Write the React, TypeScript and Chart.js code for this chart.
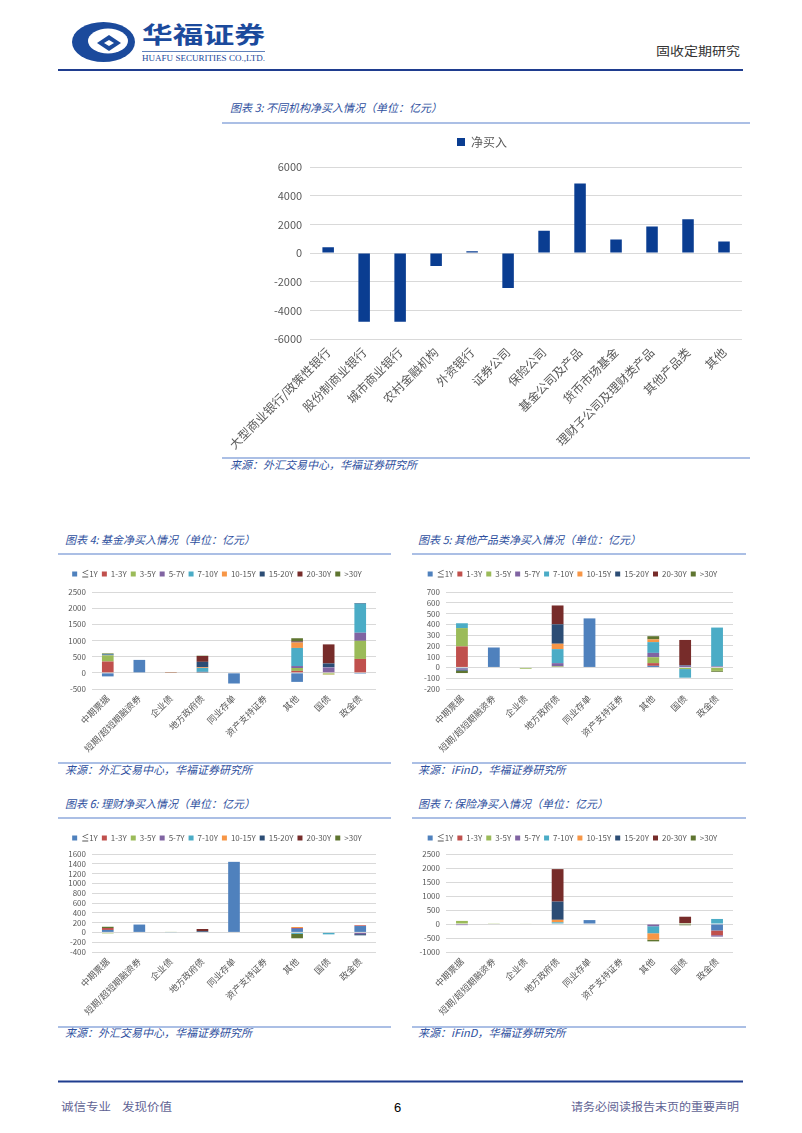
import React, { useEffect, useRef } from "react";
import { Chart, registerables } from "chart.js";

Chart.register(...registerables);

const FONT = "'Noto Sans CJK SC', 'Noto Sans', sans-serif";
Chart.defaults.font.family = FONT;

// ---------- Data ----------
const institutions = [
  "大型商业银行/政策性银行",
  "股份制商业银行",
  "城市商业银行",
  "农村金融机构",
  "外资银行",
  "证券公司",
  "保险公司",
  "基金公司及产品",
  "货币市场基金",
  "理财子公司及理财类产品",
  "其他产品类",
  "其他",
];
const institutionNetBuy = [400, -4800, -4800, -900, 130, -2450, 1550, 4850, 950, 1850, 2350, 800];
const institutionAxis = [-6000, 6000, 2000];

const bondTypes = ["中期票据", "短期/超短期融资券", "企业债", "地方政府债", "同业存单", "资产支持证券", "其他", "国债", "政金债"];
const tenorLabels = ["≦1Y", "1-3Y", "3-5Y", "5-7Y", "7-10Y", "10-15Y", "15-20Y", "20-30Y", ">30Y"];
const tenorColors = ["#4F81BD", "#C0504D", "#9BBB59", "#8064A2", "#4BACC6", "#F79646", "#2C4D75", "#772C2A", "#5F7530"];

// rows follow tenorLabels, columns follow bondTypes
const fundNetBuy = [
  [-110, 400, 0, 0, -330, 0, -280, 0, -30],
  [350, 0, 5, 0, 0, 0, 60, 20, 430],
  [190, 0, 8, 10, 0, 0, 90, -50, 560],
  [10, 0, 0, 20, 0, 0, 60, 150, 250],
  [10, 0, 0, 120, 0, 0, 560, 10, 900],
  [0, 0, 0, 20, 0, 0, 170, -10, 0],
  [20, 0, 0, 170, 0, 0, 20, 110, 20],
  [0, 0, 0, 180, 0, 0, 20, 590, 0],
  [20, 0, 0, 10, 0, 0, 90, 0, 0],
];
const fundAxis = [-500, 2500, 500];

const otherProductNetBuy = [
  [-8, 185, 0, 0, 455, 0, 15, -5, 0],
  [195, 0, 0, 0, 0, 0, 25, 0, 0],
  [170, 0, -12, 10, 0, 0, 55, -10, -32],
  [-12, 0, 0, 30, 0, 0, 40, 15, 10],
  [45, 0, 0, 130, 0, 0, 100, -80, 360],
  [0, 0, 0, 50, 0, 0, 25, 0, 0],
  [-10, 0, 0, 180, 0, 0, 0, 5, 0],
  [0, 0, 0, 175, 0, 0, 0, 235, 0],
  [-22, 0, 0, 0, 0, 0, 30, 0, -8],
];
const otherProductAxis = [-200, 700, 100];

const wealthNetBuy = [
  [50, 160, 0, 0, 1440, 0, 70, 0, 130],
  [40, 0, 0, 10, 0, 0, 0, 0, 15],
  [-20, 0, 8, 0, 0, 0, 0, -10, 0],
  [0, 0, 0, 0, 0, 0, 20, 0, -35],
  [0, 0, -8, 0, 0, 0, -30, -30, 0],
  [0, 0, 0, 0, 0, 0, 20, 0, 0],
  [0, 0, 0, 15, 0, 0, 0, 0, -25],
  [0, 0, 0, 45, 0, 0, 0, 0, 0],
  [25, 0, 0, 0, 0, 0, -90, 0, 0],
];
const wealthAxis = [-400, 1600, 200];

const insuranceNetBuy = [
  [0, 0, 0, 0, 140, 0, 0, 0, -230],
  [0, 0, 0, 0, 0, 0, 0, 0, -170],
  [110, 10, 20, 20, 0, 0, 0, 30, 0],
  [-40, 0, 0, 0, 0, 0, -80, 0, -50],
  [0, 0, 0, 40, 0, 0, -250, 0, 180],
  [0, 0, 0, 90, 0, 0, -230, 0, 0],
  [0, 0, 0, 650, 0, 0, 0, 0, 0],
  [0, 0, 0, 1160, 0, 0, 0, 230, 0],
  [0, 0, 0, 0, 0, 0, -60, -45, 0],
];
const insuranceAxis = [-1000, 2500, 500];

// ---------- Helpers ----------
const TICK = "#595959";
const GRID = "#d9d9d9";

function legendHeightPlugin(h: number) {
  return {
    id: "legendHeight",
    beforeInit(chart: any) {
      const lg = chart.legend;
      if (!lg) return;
      const fit = lg.fit;
      lg.fit = function () {
        fit.call(this);
        this.height = h;
      };
    },
  };
}

function institutionConfig(): any {
  return {
    type: "bar",
    data: {
      labels: institutions,
      datasets: [
        {
          label: "净买入",
          data: institutionNetBuy,
          backgroundColor: "#0a3d91",
          borderWidth: 0,
          barPercentage: 0.32,
          categoryPercentage: 1,
        },
      ],
    },
    options: {
      animation: false,
      responsive: false,
      devicePixelRatio: 1,
      layout: { padding: { top: 0, right: 8, bottom: 0, left: 0 } },
      plugins: {
        legend: {
          position: "top",
          labels: { boxWidth: 8, boxHeight: 8, padding: 8, color: TICK, font: { size: 12, family: FONT } },
        },
        tooltip: { enabled: false },
      },
      scales: {
        x: {
          grid: { display: false, drawTicks: false },
          border: { display: false },
          ticks: { autoSkip: false, minRotation: 45, maxRotation: 45, color: TICK, font: { size: 12, family: FONT }, padding: 6 },
          afterFit: (s: any) => {
            s.height = 116;
          },
        },
        y: {
          min: institutionAxis[0],
          max: institutionAxis[1],
          ticks: { autoSkip: false, stepSize: institutionAxis[2], color: TICK, font: { size: 11, family: FONT }, padding: 8, callback: (v: any) => String(v) },
          grid: { color: GRID, drawTicks: false },
          border: { display: false },
          afterFit: (s: any) => {
            s.width = 84;
          },
        },
      },
    },
    plugins: [legendHeightPlugin(39)],
  };
}

function stackedConfig(rows: number[][], axis: number[], legendH: number, xHeight: number, rightPad: number): any {
  return {
    type: "bar",
    data: {
      labels: bondTypes,
      datasets: rows.map((r, i) => ({
        label: tenorLabels[i],
        data: r,
        backgroundColor: tenorColors[i],
        borderWidth: 0,
        barPercentage: 0.37,
        categoryPercentage: 1,
      })),
    },
    options: {
      animation: false,
      responsive: false,
      devicePixelRatio: 1,
      layout: { padding: { top: 6, right: rightPad, bottom: 0, left: 0 } },
      plugins: {
        legend: {
          position: "top",
          labels: { boxWidth: 5, boxHeight: 5, padding: 4, color: TICK, font: { size: 8, family: FONT } },
        },
        tooltip: { enabled: false },
      },
      scales: {
        x: {
          stacked: true,
          grid: { display: false, drawTicks: false },
          border: { display: false },
          ticks: { autoSkip: false, minRotation: 45, maxRotation: 45, color: TICK, font: { size: 9, family: FONT }, padding: 4 },
          afterFit: (s: any) => {
            s.height = xHeight;
          },
        },
        y: {
          stacked: true,
          min: axis[0],
          max: axis[1],
          ticks: { autoSkip: false, stepSize: axis[2], color: TICK, font: { size: 8, family: FONT }, padding: 6, callback: (v: any) => String(v) },
          grid: { color: GRID, drawTicks: false },
          border: { display: false },
          afterFit: (s: any) => {
            s.width = 34;
          },
        },
      },
    },
    plugins: [legendHeightPlugin(legendH)],
  };
}

function ChartBox({ left, top, width, height, make }: { left: number; top: number; width: number; height: number; make: () => any }) {
  const ref = useRef<HTMLCanvasElement>(null);
  useEffect(() => {
    const chart = new Chart(ref.current as HTMLCanvasElement, make());
    return () => chart.destroy();
  }, []);
  return <canvas ref={ref} width={width} height={height} style={{ position: "absolute", left, top, width, height }} />;
}

const NAVY = "#1b4a9c";
const TITLE = "#2e4f9e";
const SEP = "#8faadc";
const FOOT = "#5f6394";

function SectionText({ x, y, text }: { x: number; y: number; text: string }) {
  return (
    <text x={x} y={y} fontSize={11} fontStyle="italic" fill={TITLE} fontFamily={FONT}>
      {text}
    </text>
  );
}

function Sep({ x1, x2, y }: { x1: number; x2: number; y: number }) {
  return <line x1={x1} x2={x2} y1={y} y2={y} stroke={SEP} strokeWidth={1.5} />;
}

export default function App() {
  return (
    <div style={{ position: "absolute", left: 0, top: 0, width: 802, height: 1133, background: "#fff", overflow: "hidden" }}>
      <svg width={802} height={1133} style={{ position: "absolute", left: 0, top: 0 }}>
        {/* header logo */}
        <ellipse cx={103.5} cy={42} rx={31.5} ry={20} fill={NAVY} />
        <ellipse cx={108} cy={41} rx={20} ry={12.5} fill="#fff" />
        <polygon points="97,43 109,35 121,43 109,51" fill={NAVY} />
        <polygon points="104,43 109,40 114,43 109,46" fill="#fff" />
        <text x={142} y={43} fontSize={23} fontWeight={700} fill={NAVY} fontFamily={FONT} textLength={123} lengthAdjust="spacingAndGlyphs">
          华福证券
        </text>
        <line x1={142} x2={265} y1={51.5} y2={51.5} stroke={NAVY} strokeWidth={0.7} />
        <text x={142} y={61} fontSize={8.5} fill={NAVY} fontFamily="'Liberation Serif', serif" textLength={123} lengthAdjust="spacingAndGlyphs">
          HUAFU SECURITIES CO.,LTD.
        </text>
        <text x={656} y={56} fontSize={12.5} fill="#333" fontFamily={FONT} textLength={84} lengthAdjust="spacingAndGlyphs">
          固收定期研究
        </text>
        <line x1={58} x2={743} y1={70} y2={70} stroke="#1f3d8f" strokeWidth={2} />

        {/* chart 3 frame */}
        <SectionText x={230} y={112} text="图表 3: 不同机构净买入情况（单位：亿元）" />
        <Sep x1={222} x2={750} y={123} />
        <Sep x1={222} x2={750} y={458} />
        <SectionText x={230} y={469} text="来源：外汇交易中心，华福证券研究所" />

        {/* chart 4 frame */}
        <SectionText x={65} y={544} text="图表 4: 基金净买入情况（单位：亿元）" />
        <Sep x1={58} x2={391} y={554} />
        <Sep x1={58} x2={391} y={763} />
        <SectionText x={65} y={774} text="来源：外汇交易中心，华福证券研究所" />

        {/* chart 5 frame */}
        <SectionText x={418} y={544} text="图表 5: 其他产品类净买入情况（单位：亿元）" />
        <Sep x1={412} x2={746} y={554} />
        <Sep x1={412} x2={746} y={763} />
        <SectionText x={418} y={774} text="来源：iFinD，华福证券研究所" />

        {/* chart 6 frame */}
        <SectionText x={65} y={808} text="图表 6: 理财净买入情况（单位：亿元）" />
        <Sep x1={58} x2={391} y={818} />
        <Sep x1={58} x2={391} y={1027} />
        <SectionText x={65} y={1037} text="来源：外汇交易中心，华福证券研究所" />

        {/* chart 7 frame */}
        <SectionText x={418} y={808} text="图表 7: 保险净买入情况（单位：亿元）" />
        <Sep x1={412} x2={746} y={818} />
        <Sep x1={412} x2={746} y={1027} />
        <SectionText x={418} y={1037} text="来源：iFinD，华福证券研究所" />

        {/* footer */}
        <line x1={58} x2={743} y1={1081.5} y2={1081.5} stroke="#1f3d8f" strokeWidth={2} />
        <text x={61} y={1111} fontSize={11} fill={FOOT} fontFamily={FONT} textLength={50} lengthAdjust="spacingAndGlyphs">
          诚信专业
        </text>
        <text x={122} y={1111} fontSize={11} fill={FOOT} fontFamily={FONT} textLength={50} lengthAdjust="spacingAndGlyphs">
          发现价值
        </text>
        <text x={394} y={1112} fontSize={13} fill="#000" fontFamily="'Liberation Sans', Arial, sans-serif">
          6
        </text>
        <text x={571} y={1111} fontSize={11} fill={FOOT} fontFamily={FONT} textLength={168} lengthAdjust="spacingAndGlyphs">
          请务必阅读报告末页的重要声明
        </text>
      </svg>

      <ChartBox left={222} top={128} width={528} height={327} make={institutionConfig} />
      <ChartBox left={58} top={560} width={334} height={200} make={() => stackedConfig(fundNetBuy, fundAxis, 26, 71, 16)} />
      <ChartBox left={412} top={560} width={336} height={200} make={() => stackedConfig(otherProductNetBuy, otherProductAxis, 26, 71, 15)} />
      <ChartBox left={58} top={824} width={334} height={200} make={() => stackedConfig(wealthNetBuy, wealthAxis, 24, 72, 16)} />
      <ChartBox left={412} top={824} width={336} height={200} make={() => stackedConfig(insuranceNetBuy, insuranceAxis, 24, 72, 15)} />
    </div>
  );
}
